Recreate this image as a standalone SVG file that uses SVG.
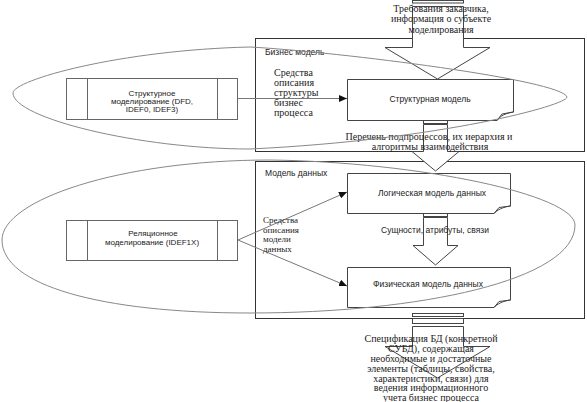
<svg xmlns="http://www.w3.org/2000/svg" width="587" height="402" viewBox="0 0 587 402">
<defs>
<marker id="ah" markerWidth="8" markerHeight="7" refX="8" refY="3.5" orient="auto" markerUnits="userSpaceOnUse">
<path d="M0,0 L8,3.5 L0,7 Z" fill="#111"/>
</marker>
</defs>
<style>
.frame{fill:none;stroke:#333;stroke-width:1}
.arrow{fill:#fff;stroke:#444;stroke-width:1}
.box{fill:#fff;stroke:#444;stroke-width:1}
.lbox{fill:#fff;stroke:#666;stroke-width:1}
.ell{fill:none;stroke:#888;stroke-width:1}
.conn{fill:none;stroke:#777;stroke-width:1}
.sans{font-family:"Liberation Sans",Arial,sans-serif;font-size:8.5px;fill:#222}
.small{font-family:"Liberation Sans",Arial,sans-serif;font-size:8px;fill:#222}
.serif{font-family:"Liberation Serif","Times New Roman",serif;font-size:10px;fill:#222}
.serif9{font-family:"Liberation Serif","Times New Roman",serif;font-size:9px;fill:#222}
</style>
<rect width="587" height="402" fill="#fff"/>

<g id="frame-business">
<rect class="frame" x="255.5" y="38.5" width="329" height="113"/>
<text class="sans" x="265" y="55">Бизнес модель</text>
</g>
<g id="frame-data">
<rect class="frame" x="255.5" y="161.5" width="329" height="157"/>
<text class="sans" x="265" y="176">Модель данных</text>
</g>

<g id="arrow-top">
<rect class="arrow" x="412.5" y="0.5" width="51" height="2.5"/>
<path class="arrow" d="M412.5,6.5 H463.5 V47.5 H490 L437.5,79 L385,47.5 H412.5 Z"/>
<text class="serif" text-anchor="middle" x="441" y="12">Требования заказчика,</text>
<text class="serif" text-anchor="middle" x="441" y="22">информация о субъекте</text>
<text class="serif" text-anchor="middle" x="441" y="33">моделирования</text>
</g>

<g id="arrow-mid1">
<rect class="arrow" x="423.5" y="120.5" width="24" height="3"/>
<path class="arrow" d="M423.5,124.5 H447.5 V151.5 H459 L435.5,171 L412,151.5 H423.5 Z"/>
<text class="serif" text-anchor="middle" x="429" y="140">Перечень подпроцессов, их иерархия и</text>
<text class="serif" text-anchor="middle" x="430" y="150">алгоритмы взаимодействия</text>
</g>

<g id="arrow-mid2">
<rect class="arrow" x="423.5" y="213.5" width="24" height="3"/>
<path class="arrow" d="M423.5,217.5 H447.5 V245.5 H458 L435.5,265 L413,245.5 H423.5 Z"/>
<text class="sans" text-anchor="middle" x="435" y="233">Сущности, атрибуты, связи</text>
</g>

<g id="arrow-bottom">
<rect class="arrow" x="412.5" y="313.5" width="51" height="3"/>
<rect class="arrow" x="412.5" y="318.5" width="51" height="5"/>
<path class="arrow" d="M412.5,326.5 H463.5 V346.5 H490 L437.5,378 L385,346.5 H412.5 Z"/>
<text class="serif" text-anchor="middle" x="431" y="342">Спецификация БД (конкретной</text>
<text class="serif" text-anchor="middle" x="431" y="352">СУБД), содержащая</text>
<text class="serif" text-anchor="middle" x="431" y="362">необходимые и достаточные</text>
<text class="serif" text-anchor="middle" x="431" y="372">элементы (таблицы, свойства,</text>
<text class="serif" text-anchor="middle" x="431" y="381.5">характеристики, связи) для</text>
<text class="serif" text-anchor="middle" x="431" y="391">ведения информационного</text>
<text class="serif" text-anchor="middle" x="431" y="400.5">учета бизнес процесса</text>
</g>

<g id="node-struct-model">
<path class="box" d="M347.5,79.5 H513.5 V112 C506,113 500,116 497,120.5 H347.5 Z"/>
<path fill="none" stroke="#444" d="M497,120.5 L502,114 L513.5,112"/>
<text class="sans" text-anchor="middle" x="430" y="102">Структурная модель</text>
</g>

<g id="node-logical">
<path class="box" d="M347.5,173.5 H510.5 V206 C503,207 497,210 494,213.5 H347.5 Z"/>
<path fill="none" stroke="#444" d="M494,213.5 L499,207.5 L510.5,206"/>
<text class="sans" text-anchor="middle" x="432" y="196">Логическая модель данных</text>
</g>

<g id="node-physical">
<path class="box" d="M347.5,267.5 H510.5 V300 C503,301 497,304 494,307.5 H347.5 Z"/>
<path fill="none" stroke="#444" d="M494,307.5 L499,301.5 L510.5,300"/>
<text class="sans" text-anchor="middle" x="428" y="287">Физическая модель данных</text>
</g>

<g id="node-struct-method">
<rect class="lbox" x="66.5" y="78.5" width="171" height="41"/>
<line class="lbox" x1="87.5" y1="78.5" x2="87.5" y2="119.5"/>
<line class="lbox" x1="217.5" y1="78.5" x2="217.5" y2="119.5"/>
<text class="small" text-anchor="middle" x="152" y="96">Структурное</text>
<text class="small" text-anchor="middle" x="152" y="104">моделирование (DFD,</text>
<text class="small" text-anchor="middle" x="152" y="111.5">IDEF0, IDEF3)</text>
</g>

<g id="node-rel-method">
<rect class="lbox" x="66.5" y="220.5" width="171" height="40"/>
<line class="lbox" x1="87.5" y1="220.5" x2="87.5" y2="260.5"/>
<line class="lbox" x1="217.5" y1="220.5" x2="217.5" y2="260.5"/>
<text class="small" text-anchor="middle" x="153" y="236">Реляционное</text>
<text class="small" text-anchor="middle" x="152" y="245">моделирование (IDEF1X)</text>
</g>

<g id="ellipses">
<path class="ell" d="M13,93 C13,80 120,50 250,47 C340,52 562,80 567,97 C568,105 440,140 250,149 C140,149 13,118 13,93 Z"/>
<path class="ell" d="M2,240 C2,200 120,160 270,160 C420,162 575,195 575,225 C575,280 420,313 250,313 C100,313 2,285 2,240 Z"/>
</g>

<g id="connectors">
<line class="conn" x1="238" y1="98.5" x2="347" y2="98.5" marker-end="url(#ah)"/>
<line class="conn" x1="238" y1="240" x2="347" y2="192" marker-end="url(#ah)"/>
<line class="conn" x1="238" y1="240" x2="347" y2="286" marker-end="url(#ah)"/>
</g>

<g id="labels">
<text class="serif" x="274" y="76">Средства</text>
<text class="serif" x="274" y="86">описания</text>
<text class="serif" x="274" y="96">структуры</text>
<text class="serif" x="274" y="105.5">бизнес</text>
<text class="serif" x="274" y="116">процесса</text>
<text class="serif9" x="263" y="223">Средства</text>
<text class="serif9" x="263" y="232.5">описания</text>
<text class="serif9" x="263" y="242">модели</text>
<text class="serif9" x="263" y="251.5">данных</text>
</g>
</svg>
